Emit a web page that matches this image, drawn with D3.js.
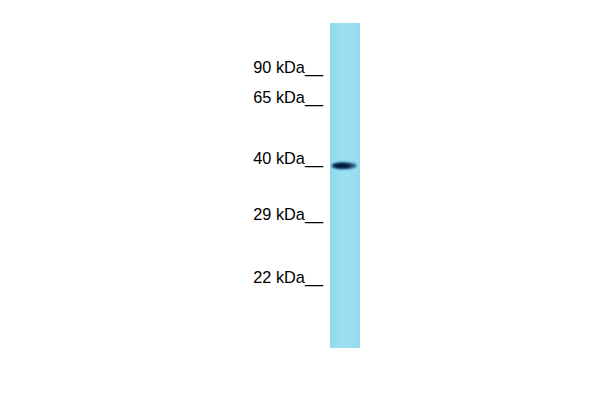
<!DOCTYPE html>
<html>
<head>
<meta charset="utf-8">
<script src="https://cdn.jsdelivr.net/npm/d3@7"></script>
<style>
  body { margin: 0; background: #fff; }
  svg { display: block; }
</style>
</head>
<body>
<div id="blot"></div>
<script>
// marker ladder (kDa) and the lane's single band
let markers = [90, 65, 40, 29, 22];
let markerLabels = ["90 kDa__", "65 kDa__", "40 kDa__", "29 kDa__", "22 kDa__"];
let bands = [{ kda: 39.6, intensity: 1 }];

let width = 600,
    height = 400;

// gel calibration: marker kDa -> baseline y (gels migrate unevenly, so polylinear log)
let y = d3.scaleLog()
    .domain([90, 65, 40, 29, 22])
    .range([73, 103, 164, 220, 283]);

let lane = { x: 330, w: 30, top: 23, bottom: 348 };

let svg = d3.select("#blot")
    .append("svg")
    .attr("width", width)
    .attr("height", height);

let defs = svg.append("defs");
let blur = defs.append("filter").attr("id", "soft")
    .attr("x", "-20%").attr("y", "-100%").attr("width", "140%").attr("height", "300%");
blur.append("feGaussianBlur").attr("stdDeviation", "1.2 0.9");

let laneGrad = defs.append("linearGradient").attr("id", "laneGrad")
    .attr("x1", 0).attr("x2", 1).attr("y1", 0).attr("y2", 0);
laneGrad.append("stop").attr("offset", "0%").attr("stop-color", "#92daee");
laneGrad.append("stop").attr("offset", "50%").attr("stop-color", "#9de0f2");
laneGrad.append("stop").attr("offset", "100%").attr("stop-color", "#94dbef");

// lane
svg.append("rect")
    .attr("x", lane.x)
    .attr("y", lane.top)
    .attr("width", lane.w)
    .attr("height", lane.bottom - lane.top)
    .attr("fill", "url(#laneGrad)");

// bands: a soft halo, then a darker left-weighted core
svg.selectAll("ellipse.band")
    .data(bands)
    .enter().append("ellipse")
    .attr("class", "band")
    .attr("cx", lane.x + lane.w / 2 - 1)
    .attr("cy", d => y(d.kda))
    .attr("rx", 12.5)
    .attr("ry", 3.4)
    .attr("fill", "#12406e")
    .attr("opacity", d => 0.85 * d.intensity)
    .attr("filter", "url(#soft)");

svg.selectAll("ellipse.core")
    .data(bands)
    .enter().append("ellipse")
    .attr("class", "core")
    .attr("cx", lane.x + lane.w / 2 - 3)
    .attr("cy", d => y(d.kda))
    .attr("rx", 9)
    .attr("ry", 2.6)
    .attr("fill", "#05183a")
    .attr("filter", "url(#soft)");

// marker labels
svg.selectAll("text.marker")
    .data(markers)
    .enter().append("text")
    .attr("class", "marker")
    .attr("x", 323)
    .attr("y", d => y(d))
    .attr("text-anchor", "end")
    .attr("font-family", "Liberation Sans, Arial, sans-serif")
    .attr("font-size", 16.3)
    .attr("fill", "#000")
    .text((d, i) => markerLabels[i]);
</script>
</body>
</html>
